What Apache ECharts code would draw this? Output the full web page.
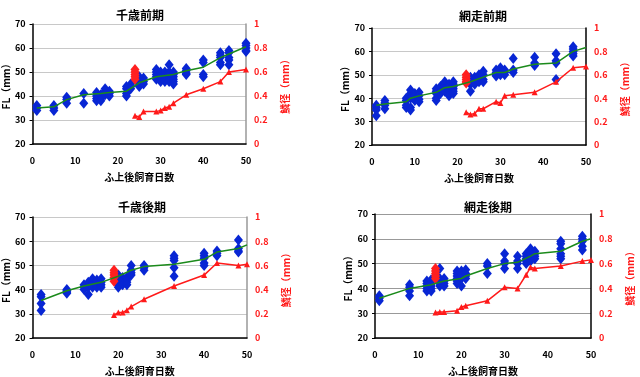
<!DOCTYPE html>
<html>
<head>
    <meta charset="UTF-8">
    <title>ふ上後飼育日数とFL</title>
    <script src="https://cdn.jsdelivr.net/npm/echarts@6/dist/echarts.min.js"></script>
    <style>
        html, body { margin: 0; padding: 0; background: #fff; }
        #chart { width: 640px; height: 377px; }
    </style>
</head>
<body>
<div id="chart"></div>
<script type="text/javascript">
    // 各パネル: [日数, FL値...]
    let titles = ['千歳前期', '網走前期', '千歳後期', '網走後期'];

    let chitoseEarlyFL = [
        [1, 36, 35, 34], [5, 36, 35, 34], [8, 39.5, 38.5, 37], [12, 41, 37],
        [15, 41.5, 40, 39, 38], [16, 40.5, 39, 38], [17, 43, 42, 41, 40.5], [18, 42, 41, 40],
        [22, 44, 43, 41, 40], [23, 45, 44, 43], [25, 48, 47, 45, 44], [26, 47.5, 46, 45],
        [29, 51, 50, 49, 48, 47], [30, 50, 49, 48, 47, 46], [31, 50, 49, 48, 47, 46],
        [32, 53, 50, 49, 48, 47, 46], [33, 50, 49, 48, 47, 46, 45], [36, 51.5, 50.5, 49.5, 49],
        [40, 55, 54, 49, 48], [44, 58, 57, 56, 54, 53], [46, 59, 58, 56, 55, 53],
        [50, 62, 61, 60, 59, 58.5]
    ];
    let abashiriEarlyFL = [
        [1, 37, 36, 35, 32.5], [3, 39, 38, 37, 35.5], [8, 40, 39, 37, 36], [9, 43.5, 42, 40, 36, 35],
        [10, 42, 41, 39], [11, 42.5, 41, 39.5, 38.5], [15, 44, 43, 42, 40, 39], [16, 45, 44, 43, 42],
        [17, 47, 46, 45, 44, 43], [18, 46, 45, 43, 42, 41], [19, 47, 46, 45, 44, 43, 42],
        [23, 49, 48, 47, 46, 43], [24, 49, 48, 47, 46], [25, 50, 49, 48, 47], [26, 51.5, 50, 48, 47],
        [29, 52, 51, 50, 49.5], [30, 53, 52, 51, 50], [31, 52, 51, 50], [33, 57, 52, 51],
        [38, 57.5, 55, 54], [43, 59, 56, 55, 48], [47, 62, 61, 60, 59, 58]
    ];
    let chitoseLateFL = [
        [2, 38, 37, 34.3, 31.4], [8, 40, 39.5, 39, 38.5], [12, 42, 41, 40], [13, 43, 41, 38],
        [14, 44.5, 43, 42, 41], [15, 44, 43, 42, 41], [16, 44.5, 43, 42, 41],
        [20, 46, 45, 44, 42, 41], [21, 45, 44, 43, 42], [22, 45, 44, 43, 42], [23, 50, 48, 47, 46],
        [26, 50, 49, 48], [33, 54, 53, 52, 49, 45.5], [40, 55, 54, 53, 51, 50],
        [43, 56, 55, 54], [48, 60.5, 57, 56, 55.5]
    ];
    let abashiriLateFL = [
        [1, 37, 36, 35], [8, 41.5, 40.5, 39, 37], [12, 43, 42, 41, 40, 39], [13, 43.5, 42, 41, 40, 39],
        [15, 48, 44, 43, 42, 41], [16, 44, 43, 42, 41], [19, 47, 46, 45, 44, 43, 42],
        [20, 47, 46, 45, 44, 41], [21, 47.5, 46, 45, 44], [26, 50, 49, 46], [30, 54, 51, 50, 48],
        [33, 53, 51, 50, 48], [35, 54, 53, 52, 51, 50], [36, 56, 55, 54, 52, 51],
        [37, 55, 54, 53, 52], [43, 59, 58, 56, 54, 53, 52], [48, 61, 60, 59, 57, 55.5]
    ];

    // 赤ひし形 (同一日)
    let chitoseEarlyRed = [24, 51, 50, 49, 48, 47];
    let abashiriEarlyRed = [22, 50, 49, 48, 47, 46.5];
    let chitoseLateRed = [19, 48, 47, 46, 45, 43.5];
    let abashiriLateRed = [14, 48, 47, 46, 45, 44];

    // 緑の線
    let chitoseEarlyTrend = [[1, 35], [5, 35.5], [8, 38.5], [12, 40.5], [16, 41], [18, 41.5], [22, 42],
        [25, 45.5], [29, 48], [33, 49], [36, 50.5], [40, 52], [44, 56], [46, 57.5], [50, 60.5]];
    let abashiriEarlyTrend = [[1, 37], [3, 37.5], [8, 38.5], [9, 40], [11, 41], [15, 42.5], [17, 44.5],
        [19, 45], [23, 47], [26, 49], [29, 51], [31, 51], [33, 52.5], [38, 54.5], [43, 55], [47, 60], [50, 61.7]];
    let chitoseLateTrend = [[2, 35.5], [8, 39.5], [12, 41.5], [16, 43], [20, 45.5], [23, 48], [26, 49.5],
        [33, 50.5], [40, 52.5], [43, 55.5], [48, 57], [50, 58.5]];
    let abashiriLateTrend = [[1, 36], [8, 40], [13, 41.5], [16, 43], [20, 44], [21, 45], [26, 48], [30, 50],
        [33, 50.5], [36, 53], [37, 54], [43, 55], [48, 59], [50, 60]];

    // 赤線 (右軸)
    let chitoseEarlyScale = [[24, 0.235], [25, 0.225], [26, 0.27], [29, 0.27], [30, 0.28], [31, 0.30],
        [32, 0.31], [33, 0.34], [36, 0.41], [40, 0.46], [44, 0.52], [46, 0.60], [50, 0.62]];
    let abashiriEarlyScale = [[22, 0.28], [23, 0.26], [24, 0.27], [25, 0.31], [26, 0.31], [29, 0.37],
        [30, 0.36], [31, 0.42], [33, 0.43], [38, 0.45], [43, 0.54], [47, 0.66], [50, 0.67]];
    let chitoseLateScale = [[19, 0.19], [20, 0.21], [21, 0.21], [22, 0.23], [23, 0.26], [26, 0.32],
        [33, 0.43], [40, 0.52], [43, 0.62], [48, 0.60], [50, 0.61]];
    let abashiriLateScale = [[14, 0.205], [15, 0.21], [16, 0.21], [19, 0.22], [20, 0.25], [21, 0.26],
        [26, 0.30], [30, 0.41], [33, 0.40], [35, 0.51], [36, 0.57], [37, 0.56], [43, 0.58], [48, 0.62], [50, 0.63]];

    let xTicks = [0, 10, 20, 30, 40, 50];

    let panels = [
        {fl: chitoseEarlyFL, red: chitoseEarlyRed, trend: chitoseEarlyTrend, scale: chitoseEarlyScale,
            grid: {left: 32, top: 24, width: 214, height: 120}, titlePos: [135, 4], rightLine: '#999'},
        {fl: abashiriEarlyFL, red: abashiriEarlyRed, trend: abashiriEarlyTrend, scale: abashiriEarlyScale,
            grid: {left: 372, top: 28, width: 214, height: 117}, titlePos: [478, 5], rightLine: '#000'},
        {fl: chitoseLateFL, red: chitoseLateRed, trend: chitoseLateTrend, scale: chitoseLateScale,
            grid: {left: 32, top: 217, width: 215, height: 122}, titlePos: [137, 196], rightLine: '#999'},
        {fl: abashiriLateFL, red: abashiriLateRed, trend: abashiriLateTrend, scale: abashiriLateScale,
            grid: {left: 375, top: 214, width: 216, height: 124}, titlePos: [483, 196], rightLine: '#000'}
    ];

    function expand(rows) {
        let out = [];
        rows.forEach(function (r) {
            for (let i = 1; i < r.length; i++) out.push([r[0], r[i]]);
        });
        return out;
    }

    let fontFamily = '"Noto Sans CJK JP", "Liberation Sans", sans-serif';
    let option = {
        animation: false,
        backgroundColor: '#fff',
        textStyle: {fontFamily: fontFamily},
        title: [], grid: [], xAxis: [], yAxis: [], series: []
    };

    panels.forEach(function (p, i) {
        option.title.push({
            text: titles[i], left: p.titlePos[0], top: p.titlePos[1], textAlign: 'center',
            textStyle: {fontSize: 12, fontWeight: 'bold', color: '#000', fontFamily: fontFamily}
        });
        option.grid.push(p.grid);
        option.xAxis.push({
            gridIndex: i, type: 'value', min: xTicks[0], max: xTicks[xTicks.length - 1], interval: 10,
            name: 'ふ上後飼育日数', nameLocation: 'middle', nameGap: 28,
            nameTextStyle: {fontSize: 10, fontWeight: 'bold', color: '#000', fontFamily: fontFamily},
            axisLine: {onZero: false, lineStyle: {color: '#000', width: 1.5}},
            axisTick: {show: false},
            axisLabel: {fontSize: 9, fontWeight: 'bold', color: '#000', margin: 12},
            splitLine: {show: false}
        });
        option.yAxis.push({
            gridIndex: i, type: 'value', min: 20, max: 70, interval: 10, position: 'left',
            name: 'FL（mm）', nameLocation: 'middle', nameGap: 20,
            nameTextStyle: {fontSize: 10, fontWeight: 'bold', color: '#000', fontFamily: fontFamily},
            axisLine: {show: true, lineStyle: {color: '#000', width: 1.5}},
            axisTick: {show: true, length: 3, lineStyle: {color: '#000'}},
            axisLabel: {fontSize: 9, fontWeight: 'bold', color: '#000', margin: 7},
            splitLine: {show: true, lineStyle: {color: i === 3 ? '#999' : '#c8c8c8', width: 1}}
        });
        option.yAxis.push({
            gridIndex: i, type: 'value', min: 0, max: 1, interval: 0.2, position: 'right',
            name: '鱗径（mm）', nameLocation: 'middle', nameGap: 34,
            nameTextStyle: {fontSize: 10, fontWeight: 'bold', color: '#ff1a1a', fontFamily: fontFamily},
            axisLine: {show: true, lineStyle: {color: p.rightLine, width: 1.5}},
            axisTick: {show: false},
            axisLabel: {fontSize: 9, fontWeight: 'bold', color: '#ff1a1a', margin: 8},
            splitLine: {show: false}
        });
        option.series.push({
            type: 'scatter', xAxisIndex: i, yAxisIndex: i * 2,
            data: expand(p.fl), symbol: 'diamond', symbolSize: [9, 11],
            itemStyle: {color: '#0826d4', opacity: 1}, z: 2
        });
        option.series.push({
            type: 'scatter', xAxisIndex: i, yAxisIndex: i * 2,
            data: expand([p.red]), symbol: 'diamond', symbolSize: [9, 11],
            itemStyle: {color: '#ff2020', opacity: 1}, z: 3
        });
        option.series.push({
            type: 'line', xAxisIndex: i, yAxisIndex: i * 2,
            data: p.trend, showSymbol: false, symbol: 'none',
            lineStyle: {color: '#1b8a1b', width: 1.5}, z: 4
        });
        option.series.push({
            type: 'line', xAxisIndex: i, yAxisIndex: i * 2 + 1,
            data: p.scale, symbol: 'triangle', symbolSize: 6,
            itemStyle: {color: '#ff1a1a'}, lineStyle: {color: '#ff1a1a', width: 1.5}, z: 5
        });
    });

    let chart = echarts.init(document.getElementById('chart'));
    chart.setOption(option);
</script>
</body>
</html>
